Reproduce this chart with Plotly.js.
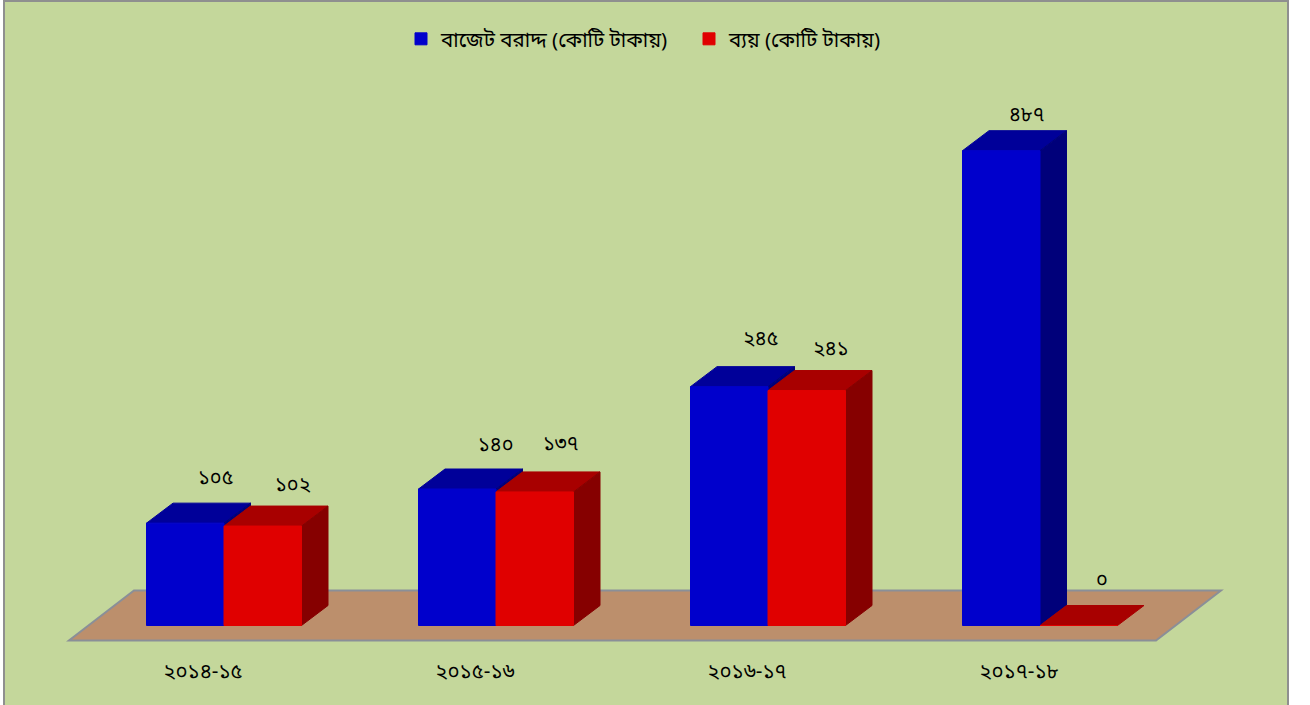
<!DOCTYPE html>
<html><head><meta charset="utf-8">
<script src="https://cdn.plot.ly/plotly-3.0.1.min.js"></script>
<style>
html,body{margin:0;padding:0;background:#fff;overflow:hidden;width:1310px;height:705px}
#frame{position:absolute;left:3px;top:0;width:1282px;height:720px;border:2px solid #8f8f8f;background:#C4D79B}
#chart{position:absolute;left:0;top:0;width:1310px;height:705px}
</style></head><body>
<div id="frame"></div><div id="chart"></div>
<script>
const categories = ['২০১৪-১৫','২০১৫-১৬','২০১৬-১৭','২০১৭-১৮'];
const budgetName = 'বাজেট বরাদ্দ (কোটি টাকায়)';
const spendName = 'ব্যয় (কোটি টাকায়)';
const budget = [105,140,245,487];
const spend = [102,137,241,0];
const budgetLabels = ['১০৫','১৪০','২৪৫','৪৮৭'];
const spendLabels = ['১০২','১৩৭','২৪১','০'];

const FONT = '"Noto Sans Bengali","Noto Sans",Lato,sans-serif';
const pxPerCat = 272, pxPerVal = 0.975;
const barW = 77.5/pxPerCat, dX = 26.5/pxPerCat, dY = 20/pxPerVal;
const tickOffset = -21/pxPerCat;
const xs = categories.map((c,i)=>i);

function poly(pts, fill, line, lw){
  const path = pts.map((p,i)=>(i?'L':'M')+p[0]+','+p[1]).join(' ')+' Z';
  return {type:'path',xref:'x',yref:'y',layer:'below',path,fillcolor:fill,
          line:{color:line||fill,width:lw===undefined?1:lw}};
}
function faces(x0,x1,v,top,side){
  const out=[poly([[x0,v],[x1,v],[x1+dX,v+dY],[x0+dX,v+dY]],top)];
  if(v>0) out.push(poly([[x1,0],[x1+dX,dY],[x1+dX,v+dY],[x1,v]],side));
  return out;
}
const shapes=[poly([[-0.5700,-15.4],[3.4265,-15.4],[3.6654,35.9],[-0.3310,35.9]],'#BC8F6C','#8A8F98',2)];
xs.forEach(i=>shapes.push(...faces(i-barW,i,budget[i],'#000099','#00007A')));
xs.forEach(i=>shapes.push(...faces(i,i+barW,spend[i],'#A80000','#860000')));

const blueShift=[[4,24],[12,23],[5,27],[-1,15]];
const redShift=[[4,20],[0,27],[-2,21],[-3,25]];
const annotations=[];
function addLabels(labels,vals,xOf,shift){
  labels.forEach((t,i)=>annotations.push({x:xOf(i)+dX,y:vals[i]+dY,text:t,showarrow:false,
    xref:'x',yref:'y',xanchor:'center',yanchor:'middle',xshift:shift[i][0],yshift:shift[i][1],
    font:{family:FONT,size:20,color:'#000'}}));
}
addLabels(budgetLabels,budget,i=>i-barW/2,blueShift);
addLabels(spendLabels,spend,i=>i+barW/2,redShift);

const traces=[
 {type:'bar',name:budgetName,x:xs,y:budget,marker:{color:'#0000CC',line:{color:'#0000CC',width:1}},hoverinfo:'skip'},
 {type:'bar',name:spendName,x:xs,y:spend,marker:{color:'#E00000',line:{color:'#E00000',width:1}},hoverinfo:'skip'}
];
const layout={
 width:1310,height:705,margin:{l:0,r:0,t:0,b:55},
 paper_bgcolor:'rgba(0,0,0,0)',plot_bgcolor:'rgba(0,0,0,0)',
 barmode:'group',bargap:1-2*77.5/272,bargroupgap:0,
 showlegend:true,
 legend:{orientation:'h',x:401/1310,xanchor:'left',y:0.94,yanchor:'middle',
   font:{family:FONT,size:20.5,color:'#000'},bgcolor:'rgba(0,0,0,0)',itemwidth:30,traceorder:'normal',
   entrywidth:243,entrywidthmode:'pixels'},
 xaxis:{range:[-224/272,(1310-224)/272],tickmode:'array',tickvals:xs.map(i=>i+tickOffset),ticktext:categories,
   showgrid:false,zeroline:false,showline:false,ticks:'outside',ticklen:2,tickcolor:'rgba(0,0,0,0)',
   tickfont:{family:FONT,size:20.5,color:'#000'}},
 yaxis:{range:[-24.5/pxPerVal,625.5/pxPerVal],visible:false,showgrid:false,zeroline:false},
 shapes,annotations,font:{family:FONT}
};
Plotly.newPlot('chart',traces,layout,{displayModeBar:false,staticPlot:true});
</script></body></html>
